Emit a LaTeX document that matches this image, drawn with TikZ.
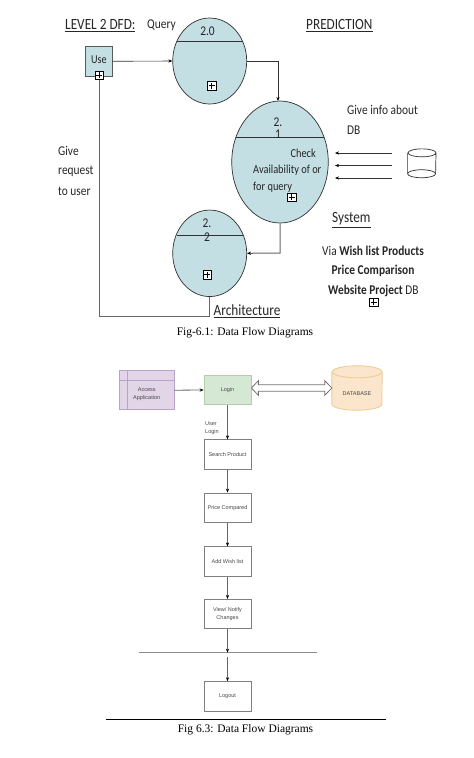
\documentclass[tikz,border=0pt]{standalone}
\usepackage{fontspec}
\setmainfont[FakeStretch=0.85]{Carlito}
\newfontfamily\capfont{Liberation Serif}
\newfontfamily\boxfont{Liberation Sans}
\usetikzlibrary{shapes.geometric,arrows.meta,calc}
\definecolor{proc}{HTML}{C3DFE3}
\definecolor{edged}{HTML}{303030}
\definecolor{lilac}{HTML}{E1D5E7}
\definecolor{lilacedge}{HTML}{B9A3C6}
\definecolor{greenf}{HTML}{D5E8D4}
\definecolor{greene}{HTML}{B4CFA6}
\definecolor{orangef}{HTML}{FBE5CC}
\definecolor{orangee}{HTML}{EBCF95}
\begin{document}
\begin{tikzpicture}[x=1pt,y=-1pt,
  tip/.style={-{Stealth[length=4pt,width=3.2pt,black]}},
  proc shape/.style={draw=edged,fill=proc,ellipse,line width=.7pt,inner sep=0pt},
  divider/.style={draw=edged,line width=.8pt},
  plusbox/.style={draw=black,fill=white,minimum size=8.5pt,inner sep=0pt,line width=.5pt,
    path picture={\draw[black,line width=.5pt] ([xshift=-3pt]path picture bounding box.center) -- ([xshift=3pt]path picture bounding box.center) ([yshift=-3pt]path picture bounding box.center) -- ([yshift=3pt]path picture bounding box.center);}},
  dfdlabel/.style={font=\fontsize{13.4}{12.5}\selectfont,text=black!85,inner sep=0pt},
  title/.style={dfdlabel,font=\fontsize{15.6}{18}\selectfont},
  link/.style={draw=black!60,line width=1pt},
  thin link/.style={draw=black!80,line width=.6pt,tip},
  boxtext/.style={font=\boxfont\fontsize{5.5}{8}\selectfont,text=black!72},
  flowbox/.style={draw=black!50,fill=white,line width=.7pt,minimum width=47pt,minimum height=29.5pt,inner sep=0pt,align=center,boxtext},
  flow/.style={draw=black!60,line width=.8pt,tip},
  caption/.style={font=\capfont\fontsize{11.5}{12}\selectfont,text=black,inner sep=0pt}]
\useasboundingbox (0,0) rectangle (474,758);

% --- Level 2 DFD
\node[title,anchor=west] (t1) at (65,25.5) {\underline{LEVEL 2 DFD:}};
\node[dfdlabel,anchor=west] (t2) at (147,25) {Query};
\node[title,anchor=west] (t3) at (306,25.5) {\underline{PREDICTION}};

\node[draw=black!65,fill=proc,line width=.9pt,minimum width=26.5pt,minimum height=29.5pt,inner sep=0pt] (use) at (99,61.3) {};
\node[dfdlabel,font=\fontsize{12}{14}\selectfont] (uset) at (99,59.5) {Use};
\node[plusbox] (useplus) at (99,75) {};

\node[proc shape,minimum width=74pt,minimum height=86pt] (p20) at (209.7,61) {};
\draw[divider] (176.5,41.7) -- (243,41.7);
\node[dfdlabel] (p20t) at (207.5,31) {2.0};
\node[plusbox] (p20p) at (211.7,85.7) {};

\node[proc shape,minimum width=96.5pt,minimum height=122pt] (p21) at (280,162) {};
\draw[divider] (236,137) -- (324,137);
\node[dfdlabel,align=center] (p21t) at (278,128) {2.\\1};
\node[dfdlabel,anchor=east,font=\fontsize{12.2}{14}\selectfont] (p21a) at (316,153) {Check};
\node[dfdlabel,anchor=west,font=\fontsize{12.2}{14}\selectfont] (p21b) at (253,170) {Availability of or};
\node[dfdlabel,anchor=west,font=\fontsize{12.2}{14}\selectfont] (p21c) at (253,187.5) {for query};
\node[plusbox] (p21p) at (291.5,197) {};

\node[proc shape,minimum width=74pt,minimum height=86.5pt] (p22) at (209.7,253.3) {};
\draw[divider] (177,235) -- (243,235);
\node[dfdlabel,align=center,font=\fontsize{13.4}{14}\selectfont] (p22t) at (207,230) {2.\\2};
\node[plusbox] (p22p) at (207,274.7) {};

\node[minimum width=28pt,minimum height=28.5pt,inner sep=0pt] (db) at (421.8,163.3) {};
\draw[draw=edged,fill=white,line width=.7pt] ([yshift=-4pt]db.north west) -- ([yshift=4pt]db.south west) arc[start angle=180,end angle=360,x radius=14pt,y radius=4pt] -- ([yshift=-4pt]db.north east) arc[start angle=0,end angle=360,x radius=14pt,y radius=4pt];
\draw[draw=edged,line width=.7pt] ([yshift=4pt]db.south west) arc[start angle=180,end angle=0,x radius=14pt,y radius=4pt];
\coordinate (f1) at (392,153);
\coordinate (f2) at (392,165.5);
\coordinate (f3) at (392,178);
\coordinate (g1) at (335,153);
\coordinate (g2) at (335,165.5);
\coordinate (g3) at (335,178);
\draw[thin link] (f1) -- (g1);
\draw[thin link] (f2) -- (g2);
\draw[thin link] (f3) -- (g3);

\draw[thin link] (use.east) -- (p20.west);
\draw[thin link,line width=.7pt] (p20.east) -- (278,61) -- (278,101);
\draw[link,tip] (p21.south) -- (280,253) -- (p22.east);
\draw[link] (p22.south) -- (209.7,316) -- (99,316) -- (useplus.south);

\node[dfdlabel,anchor=west] (n1) at (347,110) {Give info about};
\node[dfdlabel,anchor=west] (n2) at (347,130.5) {DB};
\node[dfdlabel,anchor=west] (n3) at (58,151) {Give};
\node[dfdlabel,anchor=west] (n4) at (58,171) {request};
\node[dfdlabel,anchor=west] (n5) at (58,191) {to user};
\node[title,anchor=west] (n6) at (332,220) {\underline{System}};
\node[dfdlabel,anchor=west] (n7) at (322,251) {Via \textbf{Wish list Products}};
\node[dfdlabel] (n8) at (373,271) {\textbf{Price Comparison}};
\node[dfdlabel,anchor=west] (n9) at (328,291) {\textbf{Website Project} DB};
\node[plusbox] (n10) at (373.5,302) {};
\node[title,anchor=west] (n11) at (213.5,311.5) {\underline{Architecture}};
\node[caption] (c1) at (245,333) {Fig-6.1: Data Flow Diagrams};

% --- Flow
\node[draw=lilacedge,fill=lilac,line width=.7pt,minimum width=55pt,minimum height=39pt,inner sep=0pt] (acc) at (146.5,390.2) {};
\draw[draw=lilacedge,line width=.7pt] (acc.north west) ++(8.3,0) -- ++(0,39);
\draw[draw=lilacedge,line width=.7pt] (acc.north west) ++(0,10) -- ++(55,0);
\node[align=center,inner sep=0pt,boxtext] (acct) at (146.7,394) {Access\\Application};
\node[flowbox,draw=greene,fill=greenf] (login) at (227.5,390) {Login};
\node[minimum width=50pt,minimum height=44pt,inner sep=0pt] (data) at (357,388) {};
\draw[draw=orangee,fill=orangef,line width=.9pt] ([yshift=-6pt]data.north west) -- ([yshift=6pt]data.south west) arc[start angle=180,end angle=360,x radius=25pt,y radius=6pt] -- ([yshift=-6pt]data.north east) arc[start angle=0,end angle=360,x radius=25pt,y radius=6pt];
\node[inner sep=0pt,boxtext] (datat) at (357,394) {DATABASE};
\node[flowbox] (search) at (227.5,454.5) {Search Product};
\node[flowbox] (price) at (227.5,507.7) {Price Compared};
\node[flowbox] (wish) at (227.5,561.5) {Add Wish list};
\node[flowbox] (view) at (227.5,614) {View/ Notify\\Changes};
\node[flowbox] (logout) at (227.5,696.3) {Logout};
\node[anchor=west,align=left,inner sep=0pt,boxtext] (ul) at (205,428) {User\\Login};
\draw[flow] (acc.east) -- (login.west);
\draw[flow] (login.south) -- (search.north);
\draw[flow] (search.south) -- (price.north);
\draw[flow] (price.south) -- (wish.north);
\draw[flow] (wish.south) -- (view.north);
\coordinate (barl) at (139,652.7);
\coordinate (barr) at (316.7,652.7);
\coordinate (barc) at (227.5,652.7);
\coordinate (barb) at (227.5,657);
\draw[draw=black!45,line width=.8pt] (barl) -- (barr);
\draw[flow] (view.south) -- (barc);
\draw[flow] (barb) -- (logout.north);
\coordinate (dl) at (login.east |- data.west);
\draw[draw=black!55,fill=white,line width=.8pt,line join=miter]
  (dl) -- ($(dl)+(7,-7.3)$) -- ($(dl)+(7,-3.3)$) -- ($(data.west)+(-7,-3.3)$) -- ($(data.west)+(-7,-7.3)$) -- (data.west)
  -- ($(data.west)+(-7,7.3)$) -- ($(data.west)+(-7,3.3)$) -- ($(dl)+(7,3.3)$) -- ($(dl)+(7,7.3)$) -- cycle;
\coordinate (rl) at (106,719);
\coordinate (rr) at (386,719);
\draw[black,line width=.8pt] (rl) -- (rr);
\node[caption] (c2) at (245.5,730) {Fig 6.3: Data Flow Diagrams};
\end{tikzpicture}
\end{document}
